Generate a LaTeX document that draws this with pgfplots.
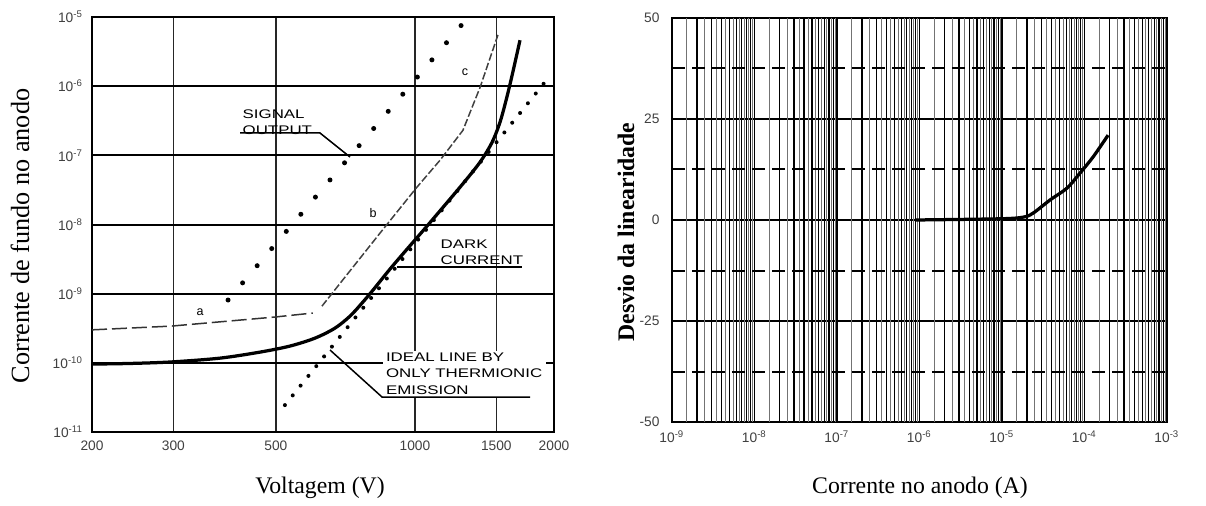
\documentclass[border=0pt]{standalone}
\usepackage{fontspec}
\setmainfont{Liberation Serif}
\setsansfont{Liberation Sans}
\usepackage{pgfplots}
\pgfplotsset{compat=1.18}

\newcommand{\tk}{\sffamily\fontsize{5.5}{6}\selectfont}
\newcommand{\ann}{\sffamily\fontsize{5}{6.5}\selectfont}
\newcommand{\e}[1]{10\textsuperscript{#1}}

\begin{document}
\begin{tikzpicture}[x=0.4pt,y=-0.4pt]
\useasboundingbox (0,0) rectangle (1206,506);

% left: dark current vs voltage
\begin{axis}[
  at={(36.8pt,-172.8pt)}, anchor=south west,
  width=184.8pt, height=166pt, scale only axis,
  xmode=log, ymode=log,
  xmin=200, xmax=2000, ymin=1e-11, ymax=1e-5,
  xtick={200,300,500,1000,1500,2000},
  xticklabels={200,300,500,1000,1500,2000},
  ytick={1e-11,1e-10,1e-9,1e-8,1e-7,1e-6,1e-5},
  yticklabels={\e{-11},\e{-10},\e{-9},\e{-8},\e{-7},\e{-6},\e{-5}},
  tick style={draw=none},
  tick label style={font=\tk, text=black!75},
  xmajorgrids=true, ymajorgrids=true,
  major x grid style={black!85, line width=0.5pt},
  major y grid style={black, line width=0.8pt},
  axis line style={line width=1pt},
]
% dark current
\addplot[black, line width=1.3pt, smooth, tension=0.5] coordinates {
  (200,9.6e-11) (241.7,9.8e-11) (296.5,1.03e-10) (378.5,1.17e-10) (462,1.43e-10)
  (536.6,1.75e-10) (607.9,2.28e-10) (671.4,3.18e-10) (723.6,4.74e-10)
  (768.2,7.31e-10) (811.5,1.13e-9) (883.1,2.27e-9) (961.4,4.41e-9)
  (1062,9.5e-9) (1252,3.47e-8) (1383,7.97e-8) (1469,1.55e-7) (1528,3.02e-7)
  (1575,6.28e-7) (1623,1.44e-6) (1688,4.62e-6)};
% curve a
\addplot[black!80, line width=0.6pt, dash pattern=on 6pt off 2pt] coordinates {
  (200,3.0e-10) (297,3.4e-10) (498,4.6e-10) (601,5.25e-10)};
% curve b / c
\addplot[black!75, line width=0.6pt, dash pattern=on 3pt off 1pt] coordinates {
  (629,6.6e-10) (840,7.5e-9) (1010,3.47e-8) (1133,8.5e-8) (1270,2.3e-7)
  (1384,9.7e-7) (1512,5.5e-6)};
% signal output
\addplot[black, line width=2pt, line cap=round, dash pattern=on 0pt off 9pt] coordinates {
  (394,8.1e-10) (1303,9.9e-6)};
% ideal line by only thermionic emission
\addplot[black, line width=1.6pt, line cap=round, dash pattern=on 0pt off 5pt] coordinates {
  (523,2.45e-11) (1941,1.3e-6)};
\end{axis}

% right: linearity deviation vs anode current
\begin{axis}[
  at={(268.8pt,-168.8pt)}, anchor=south west,
  width=198pt, height=161.6pt, scale only axis,
  xmode=log, xmin=1e-9, xmax=1e-3, ymin=-50, ymax=50,
  xtick={1e-9,1e-8,1e-7,1e-6,1e-5,1e-4,1e-3},
  xticklabels={\e{-9},\e{-8},\e{-7},\e{-6},\e{-5},\e{-4},\e{-3}},
  ytick={-50,-25,0,25,50},
  yticklabels={-50,-25,0,25,50},
  tick style={draw=none},
  tick label style={font=\tk, text=black!75},
  yticklabel style={xshift=-1.5pt},
  xmajorgrids=true, xminorgrids=true, ymajorgrids=true,
  major x grid style={black, line width=0.7pt},
  minor x grid style={black, line width=0.55pt},
  major y grid style={black, line width=0.8pt},
  extra x ticks={1.5e-9,2.5e-9,3.5e-9,4.5e-9,5.5e-9,6.5e-9,7.5e-9,8.5e-9,9.5e-9,
                 1.5e-8,2.5e-8,3.5e-8,4.5e-8,5.5e-8,6.5e-8,7.5e-8,8.5e-8,9.5e-8,
                 1.5e-7,2.5e-7,3.5e-7,4.5e-7,5.5e-7,6.5e-7,7.5e-7,8.5e-7,9.5e-7,
                 1.5e-6,2.5e-6,3.5e-6,4.5e-6,5.5e-6,6.5e-6,7.5e-6,8.5e-6,9.5e-6,
                 1.5e-5,2.5e-5,3.5e-5,4.5e-5,5.5e-5,6.5e-5,7.5e-5,8.5e-5,9.5e-5,
                 1.5e-4,2.5e-4,3.5e-4,4.5e-4,5.5e-4,6.5e-4,7.5e-4,8.5e-4,9.5e-4},
  extra x tick labels={},
  extra x tick style={xmajorgrids=true,
    major x grid style={black!55, line width=0.35pt}},
  extra y ticks={-37.5,-12.5,12.5,37.5},
  extra y tick labels={},
  extra y tick style={ymajorgrids=true,
    major y grid style={black, line width=0.8pt, dash pattern=on 5pt off 3pt}},
  axis line style={line width=1pt},
]
\addplot[black, line width=1.3pt, smooth] coordinates {
  (8.8e-7,0) (9.5e-6,0.3) (1.8e-5,0.7) (2.38e-5,1.7) (3.82e-5,4.95)
  (6.14e-5,7.9) (8.8e-5,11.6) (1.27e-4,15.6) (1.93e-4,21)};
\end{axis}

% annotations, left chart
\node[font=\ann, align=left, anchor=north west, inner sep=0pt, xscale=1.35] at (242,109) {SIGNAL\\OUTPUT};
\draw[line width=0.6pt] (240,133) -- (320,133) -- (350,157);
\node[font=\ann, align=left, anchor=north west, inner sep=0pt, xscale=1.35] at (440,239) {DARK\\CURRENT};
\draw[line width=0.6pt] (397,267) -- (522,267);
\node[font=\ann, align=left, anchor=north west, inner sep=1pt, fill=white, xscale=1.35] at (382,350) {IDEAL LINE BY\\ONLY THERMIONIC\\EMISSION};
\draw[line width=0.6pt] (330,350) -- (382,397) -- (530,397);
\node[font=\ann] at (200,312) {a};
\node[font=\ann] at (373,213) {b};
\node[font=\ann] at (465,72) {c};

% axis titles
\node[font=\fontsize{10.5}{12}\selectfont, rotate=90] at (20,236) {Corrente de fundo no anodo};
\node[font=\fontsize{9.5}{11}\selectfont] at (320,488) {Voltagem (V)};
\node[font=\bfseries\fontsize{9.5}{12}\selectfont, rotate=90] at (626,232) {Desvio da linearidade};
\node[font=\fontsize{9.5}{11}\selectfont] at (920,488) {Corrente no anodo (A)};
\end{tikzpicture}
\end{document}
